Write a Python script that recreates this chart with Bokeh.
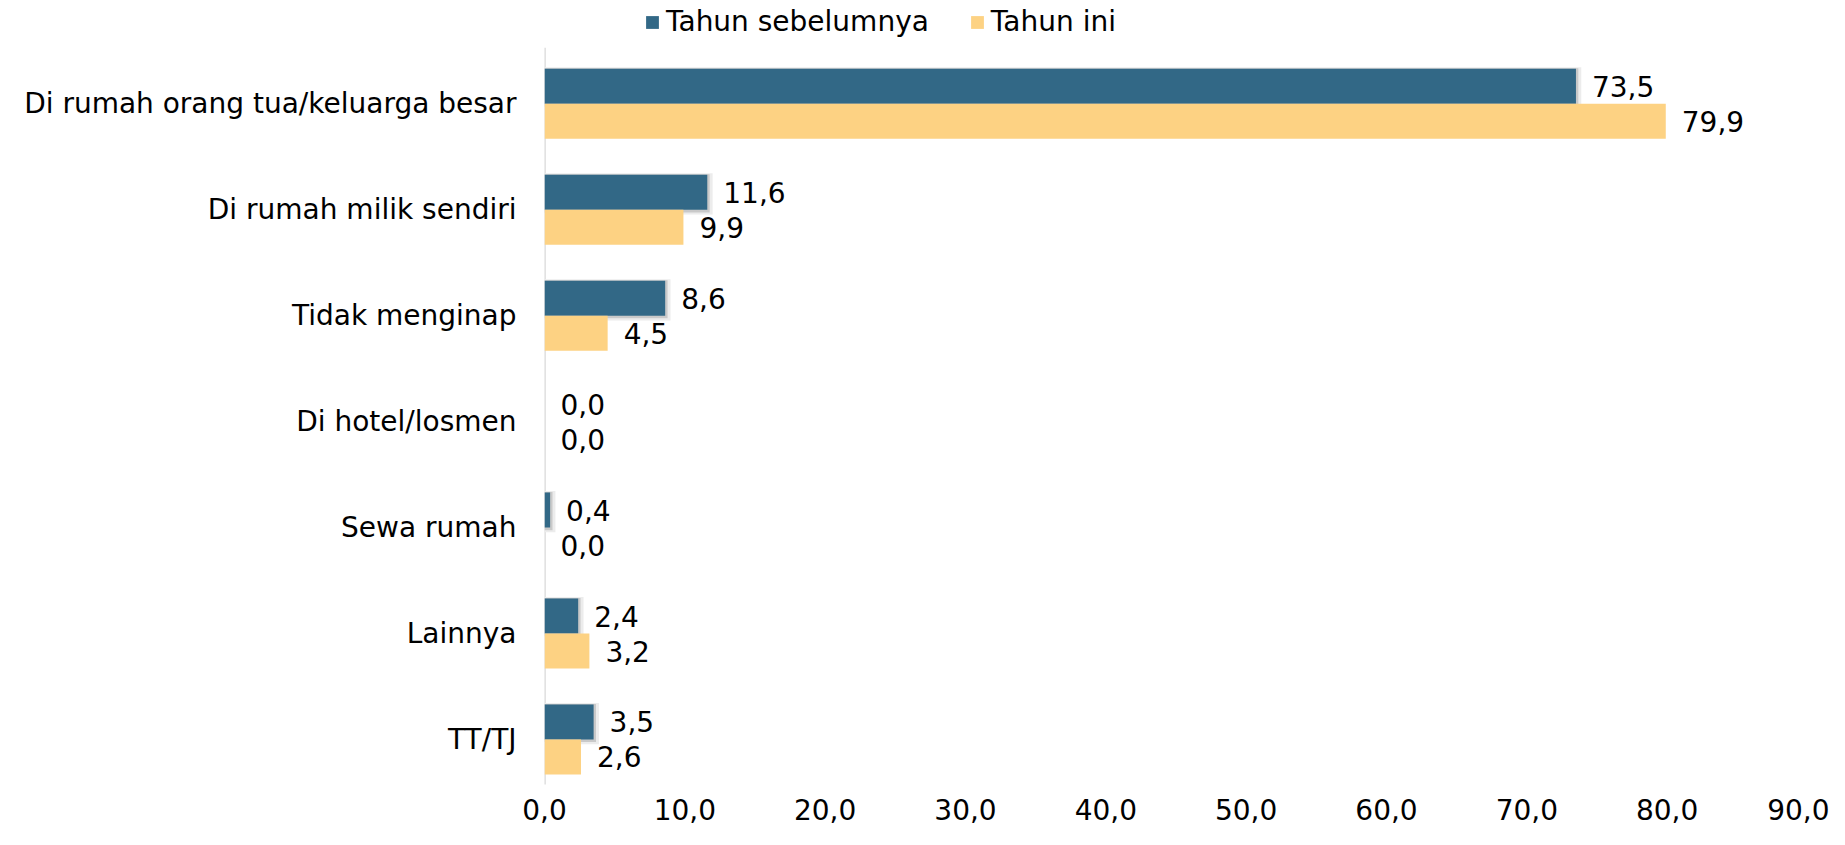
from bokeh.plotting import figure
from bokeh.models import ColumnDataSource, Range1d, FixedTicker, Legend, LegendItem
from bokeh.core.properties import value
from bokeh.embed import file_html
from bokeh.resources import INLINE

categories = ["Di rumah orang tua/keluarga besar", "Di rumah milik sendiri", "Tidak menginap",
              "Di hotel/losmen", "Sewa rumah", "Lainnya", "TT/TJ"]
prev_year = [73.5, 11.6, 8.6, 0.0, 0.4, 2.4, 3.5]
this_year = [79.9, 9.9, 4.5, 0.0, 0.0, 3.2, 2.6]
x_ticks = [0, 10, 20, 30, 40, 50, 60, 70, 80, 90]
series_names = ["Tahun sebelumnya", "Tahun ini"]

FONT = "DejaVu Sans"
FS = "28px"
BLUE = "#326886"
YELLOW = "#FDD283"
BH = 0.33

def fmt(v):
    return f"{v:.1f}".replace(".", ",")

idx = list(range(len(categories)))
src_prev = ColumnDataSource(dict(y=[i - BH / 2 for i in idx], x=prev_year,
                                 lab=[fmt(v) for v in prev_year],
                                 ys1=[i - BH / 2 + 0.015 for i in idx],
                                 ys2=[i - BH / 2 + 0.01 for i in idx],
                                 xs1=[v + 0.38 if v > 0 else 0 for v in prev_year],
                                 xs2=[v + 0.17 if v > 0 else 0 for v in prev_year]))
src_this = ColumnDataSource(dict(y=[i + BH / 2 for i in idx], x=this_year,
                                 lab=[fmt(v) for v in this_year]))

p = figure(width=1829, height=829, output_backend="svg", toolbar_location=None,
           x_range=Range1d(0, 90), y_range=Range1d(6.425, -0.975),
           min_border_left=544, min_border_right=22, min_border_bottom=45, min_border_top=0)
p.outline_line_color = None
p.xgrid.grid_line_color = None
p.ygrid.grid_line_color = None

# vertical axis line at x = 0 spanning the category band
p.segment(x0=[0], y0=[-0.53], x1=[0], y1=[6.52], line_color="#d9d9d9", line_width=2.5)

# soft shadow (down-right) behind dark bars
p.hbar(y="ys1", right="xs1", height=BH + 0.06, left=0, source=src_prev,
       fill_color="#ececec", line_color=None)
p.hbar(y="ys2", right="xs2", height=BH + 0.03, left=0, source=src_prev,
       fill_color="#c9c9c9", line_color=None)
r1 = p.hbar(y="y", right="x", height=BH, left=0, source=src_prev,
            fill_color=BLUE, line_color=None)
r2 = p.hbar(y="y", right="x", height=BH, left=0, source=src_this,
            fill_color=YELLOW, line_color=None)

for s in (src_prev, src_this):
    p.text(x="x", y="y", text="lab", source=s, x_offset=16, text_baseline="middle",
           text_align="left", text_font=value(FONT), text_font_size=FS, text_color="#000000")

p.xaxis.ticker = FixedTicker(ticks=x_ticks)
p.xaxis.major_label_overrides = {t: fmt(t) for t in x_ticks}
p.xaxis.axis_line_color = None
p.xaxis.major_tick_line_color = None
p.xaxis.minor_tick_line_color = None
p.xaxis.major_label_standoff = 8
p.xaxis.major_label_text_font = FONT
p.xaxis.major_label_text_font_size = FS
p.xaxis.major_label_text_color = "#000000"

p.yaxis.ticker = FixedTicker(ticks=idx)
p.yaxis.major_label_overrides = {i: c for i, c in enumerate(categories)}
p.yaxis.axis_line_color = None
p.yaxis.major_tick_line_color = None
p.yaxis.minor_tick_line_color = None
p.yaxis.major_label_standoff = 22
p.yaxis.major_label_text_font = FONT
p.yaxis.major_label_text_font_size = FS
p.yaxis.major_label_text_color = "#000000"

legend = Legend(items=[LegendItem(label=series_names[0], renderers=[r1]),
                       LegendItem(label=series_names[1], renderers=[r2])],
                orientation="horizontal", location=(100, 746),
                label_text_font=FONT, label_text_font_size=FS, label_text_color="#000000",
                glyph_width=16, glyph_height=16, label_standoff=6, spacing=40,
                padding=0, margin=0, border_line_color=None, background_fill_alpha=0)
p.add_layout(legend, "center")

open("out.html", "w").write(file_html(p, INLINE))
